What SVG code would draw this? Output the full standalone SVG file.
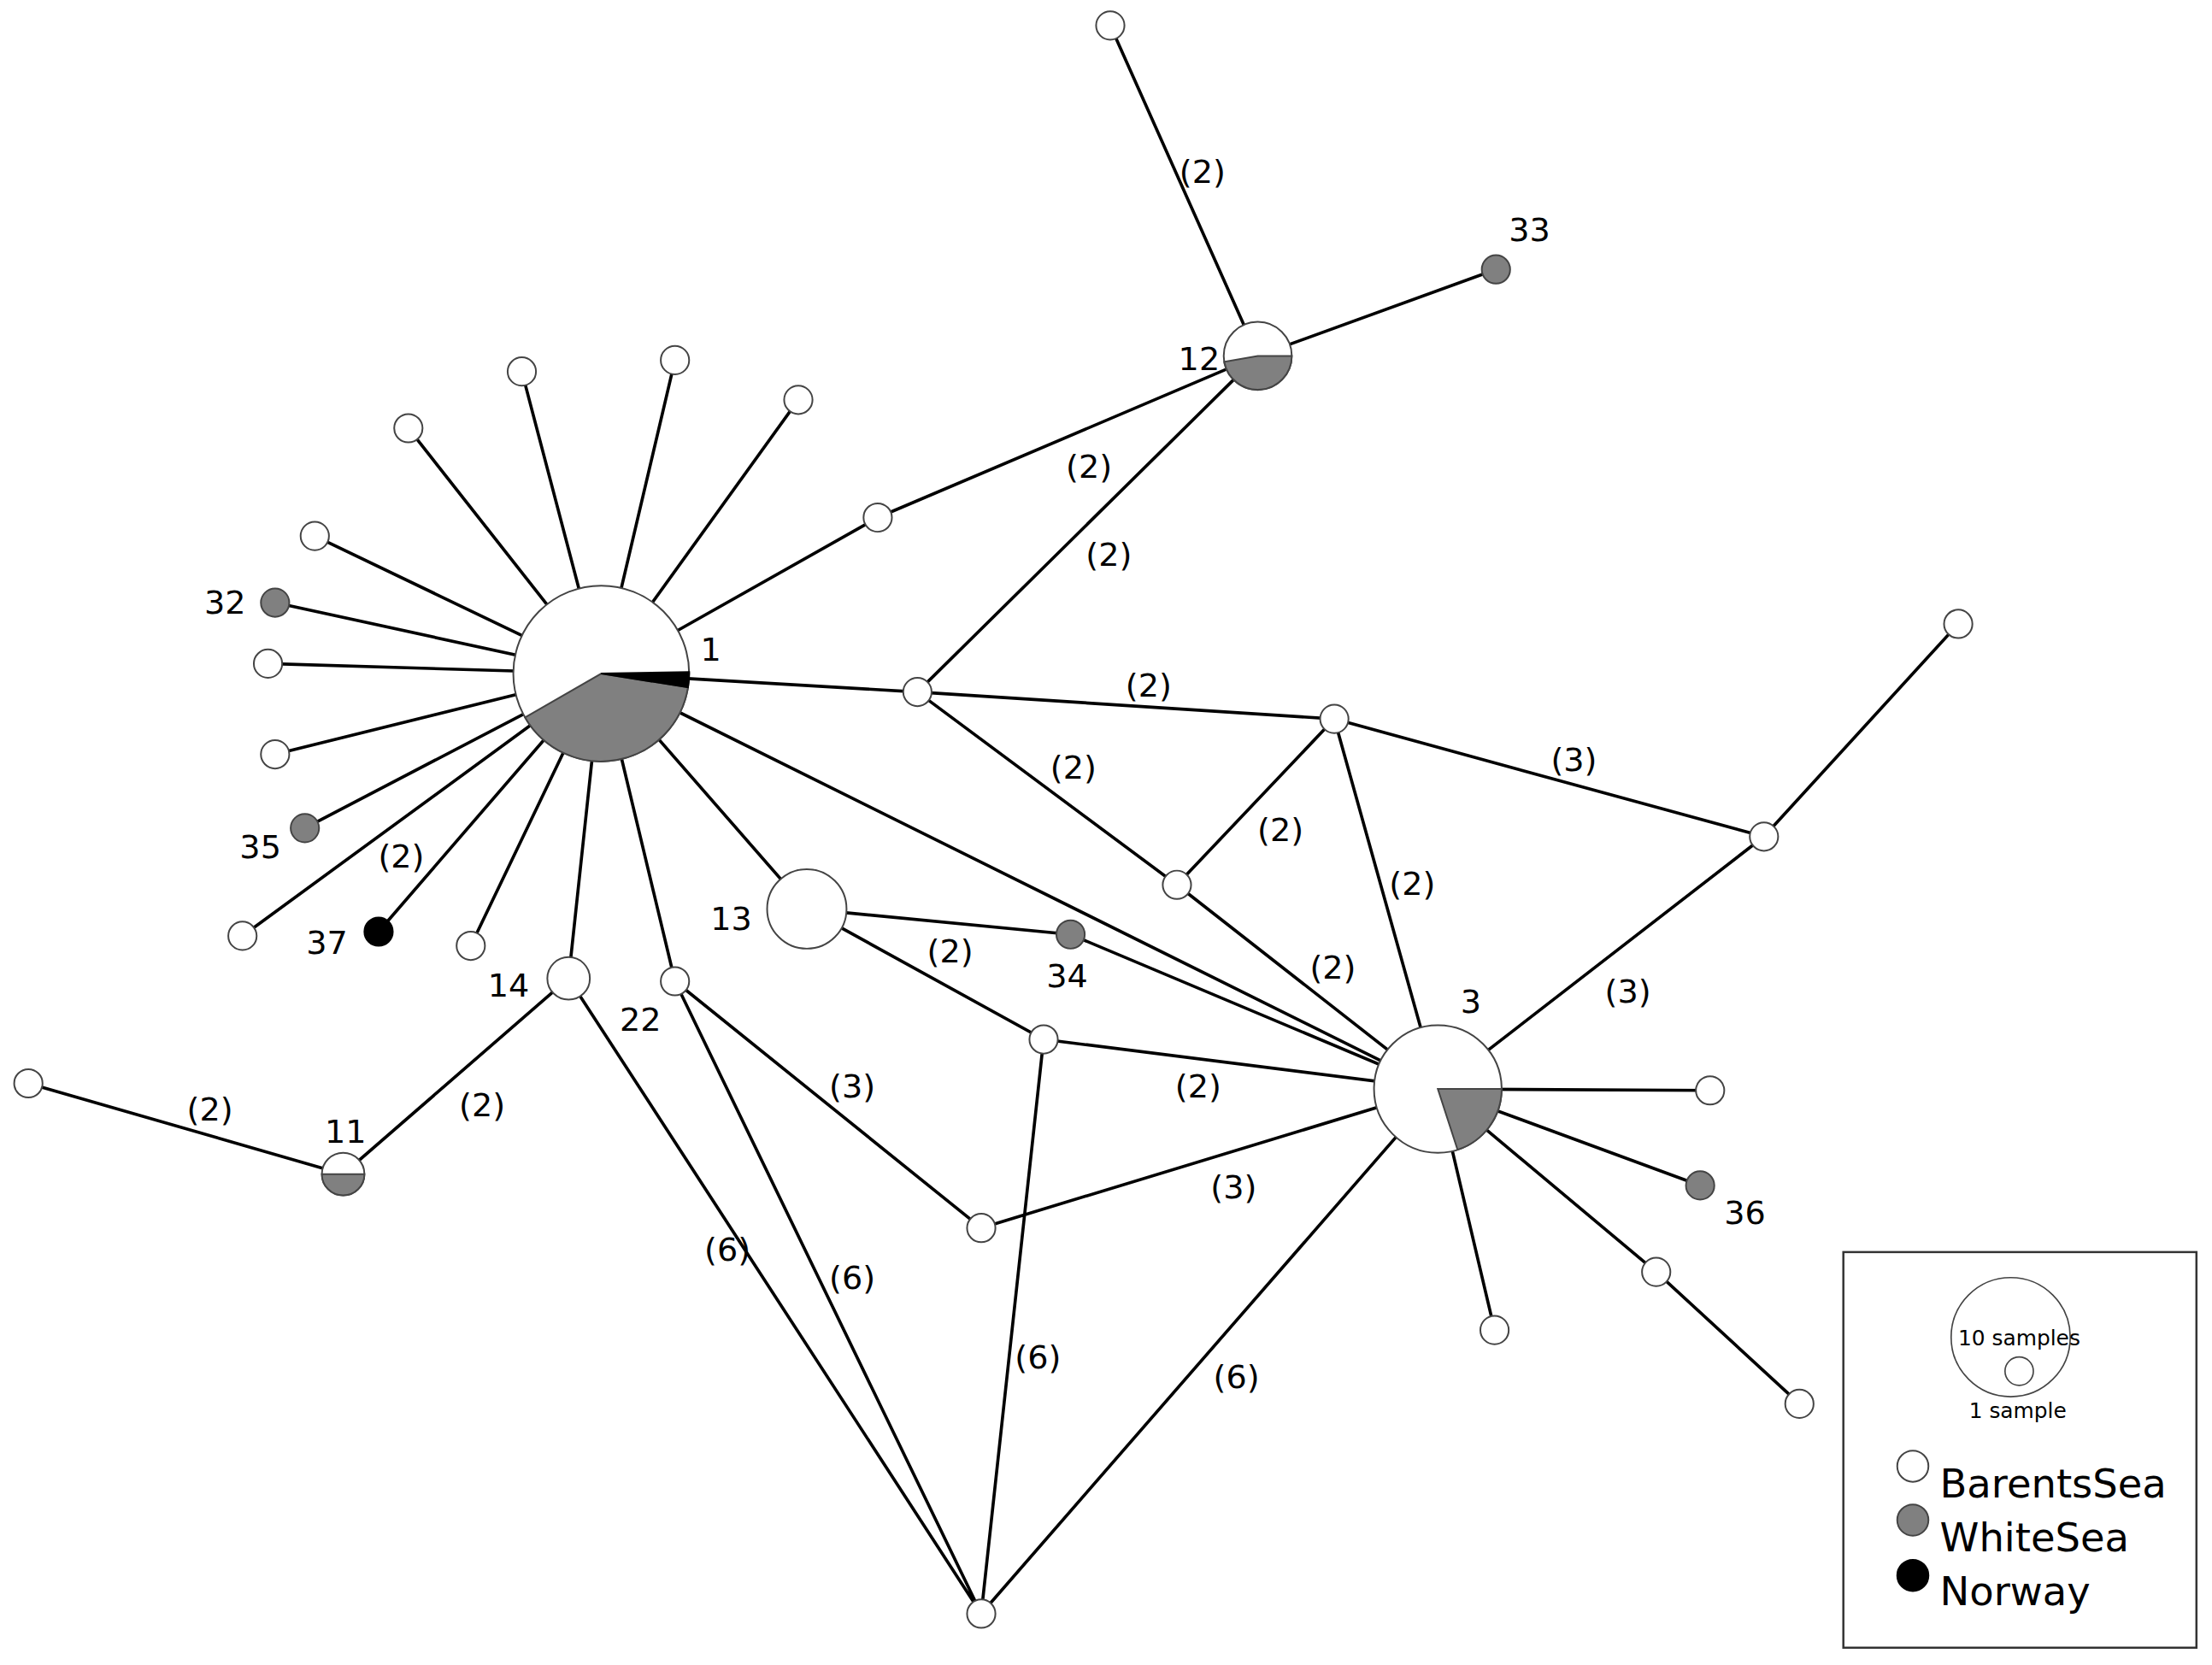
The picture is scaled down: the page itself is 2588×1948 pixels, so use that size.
<svg xmlns="http://www.w3.org/2000/svg" width="2588" height="1948" viewBox="0 0 2588 1948">
<style>
.e{stroke:#000;stroke-width:2.2;fill:none}
.w{fill:#fff;stroke:#444;stroke-width:1.2}
.g{fill:#808080;stroke:#444;stroke-width:1.2}
.b{fill:#000;stroke:#000;stroke-width:1.2}
text{font-family:"DejaVu Sans",Verdana,sans-serif;font-size:23px;fill:#000}
.l{text-anchor:middle}
</style>
<rect width="2588" height="1948" fill="#fff"/>
<g transform="scale(1.659)">
<g id="connectors">
<path class="e" d="M424,475L368,262M424,475L476,254M424,475L563,282M424,475L288,302M424,475L222,378M424,475L194,425M424,475L189,468M424,475L194,532M424,475L215,584M424,475L171,660M424,475L267,657M424,475L332,667M424,475L401,690M424,475L476,692M424,475L569,641M424,475L619,365M424,475L647,488M424,475L1014,768"/>
<path class="e" d="M619,365L887,251M647,488L887,251M887,251L783,18M887,251L1055,190M647,488L941,507M647,488L830,624M830,624L941,507M941,507L1244,590M941,507L1014,768M830,624L1014,768M1244,590L1381,440M1244,590L1014,768M1014,768L1206,769M1014,768L1199,836M1014,768L1168,897L1269,990M1014,768L1054,938M1014,768L692,1138M569,641L755,659L1014,768M569,641L736,733L1014,768M736,733L692,1138M692,866L1014,768M476,692L692,866M476,692L692,1138M401,690L692,1138M401,690L242,828L20,764"/>
<g class="l">
<text x="768" y="337">(2)</text><text x="782" y="399">(2)</text><text x="848" y="129">(2)</text>
<text x="810" y="491">(2)</text><text x="757" y="549">(2)</text><text x="903" y="593">(2)</text>
<text x="1110" y="544">(3)</text><text x="996" y="631">(2)</text><text x="940" y="690">(2)</text>
<text x="1148" y="707">(3)</text><text x="872" y="979">(6)</text><text x="670" y="679">(2)</text>
<text x="845" y="774">(2)</text><text x="732" y="965">(6)</text><text x="870" y="845">(3)</text>
<text x="601" y="774">(3)</text><text x="601" y="909">(6)</text><text x="513" y="889">(6)</text>
<text x="340" y="787">(2)</text><text x="148" y="790">(2)</text><text x="283" y="612">(2)</text>
</g>
</g>
<g id="n1"><circle class="w" cx="424" cy="475" r="62"/>
<path class="g" d="M424,475L485.2,484.7A62,62 0 0 1 370.3,506Z"/>
<path class="b" d="M424,475L486,473.9A62,62 0 0 1 485.2,484.7Z"/>
<text x="494" y="466">1</text></g>
<g id="n12"><circle class="w" cx="887" cy="251" r="24"/>
<path class="g" d="M887,251L911,251A24,24 0 0 1 863.4,255.2Z"/><text x="831" y="261">12</text></g>
<g id="n3"><circle class="w" cx="1014" cy="768" r="45"/>
<path class="g" d="M1014,768L1059,768A45,45 0 0 1 1027.9,810.8Z"/><text x="1030" y="714">3</text></g>
<g id="n13"><circle class="w" cx="569" cy="641" r="28"/><text x="501" y="656">13</text></g>
<g id="n14"><circle class="w" cx="401" cy="690" r="15"/><text x="344" y="703">14</text></g>
<g id="n11"><circle class="w" cx="242" cy="828" r="15"/><path class="g" d="M227,828A15,15 0 0 0 257,828Z"/><text x="229" y="806">11</text></g>
<g id="n33"><circle class="g" cx="1055" cy="190" r="10"/><text x="1064" y="170">33</text></g>
<g id="n32"><circle class="g" cx="194" cy="425" r="10"/><text x="144" y="433">32</text></g>
<g id="n35"><circle class="g" cx="215" cy="584" r="10"/><text x="169" y="605">35</text></g>
<g id="n37"><circle class="b" cx="267" cy="657" r="10"/><text x="216" y="673">37</text></g>
<g id="n34"><circle class="g" cx="755" cy="659" r="10"/><text x="738" y="696">34</text></g>
<g id="n36"><circle class="g" cx="1199" cy="836" r="10"/><text x="1216" y="863">36</text></g>
<g id="n22"><circle class="w" cx="476" cy="692" r="10"/><text x="437" y="727">22</text></g>
<g id="small">
<circle class="w" cx="783" cy="18" r="10"/><circle class="w" cx="368" cy="262" r="10"/><circle class="w" cx="476" cy="254" r="10"/><circle class="w" cx="563" cy="282" r="10"/><circle class="w" cx="288" cy="302" r="10"/><circle class="w" cx="222" cy="378" r="10"/><circle class="w" cx="189" cy="468" r="10"/><circle class="w" cx="194" cy="532" r="10"/><circle class="w" cx="171" cy="660" r="10"/><circle class="w" cx="332" cy="667" r="10"/><circle class="w" cx="619" cy="365" r="10"/><circle class="w" cx="647" cy="488" r="10"/><circle class="w" cx="941" cy="507" r="10"/><circle class="w" cx="1381" cy="440" r="10"/><circle class="w" cx="1244" cy="590" r="10"/><circle class="w" cx="830" cy="624" r="10"/><circle class="w" cx="736" cy="733" r="10"/><circle class="w" cx="692" cy="866" r="10"/><circle class="w" cx="20" cy="764" r="10"/><circle class="w" cx="1206" cy="769" r="10"/><circle class="w" cx="1168" cy="897" r="10"/><circle class="w" cx="1054" cy="938" r="10"/><circle class="w" cx="1269" cy="990" r="10"/><circle class="w" cx="692" cy="1138" r="10"/>
</g>
<g id="legend">
<rect x="1300" y="883" width="249" height="279" fill="#fff" stroke="#333" stroke-width="1.5"/>
<circle cx="1418" cy="943" r="42" fill="none" stroke="#444"/><circle cx="1424" cy="967" r="10" fill="none" stroke="#444"/>
<text x="1424" y="949" class="l" style="font-size:15px">10 samples</text>
<text x="1423" y="1000" class="l" style="font-size:15px">1 sample</text>
<circle class="w" cx="1349" cy="1034" r="11"/><circle class="g" cx="1349" cy="1072" r="11"/><circle class="b" cx="1349" cy="1111" r="11"/>
<text x="1368" y="1056" style="font-size:28px">BarentsSea</text>
<text x="1368" y="1094" style="font-size:28px">WhiteSea</text>
<text x="1368" y="1132" style="font-size:28px">Norway</text>
</g>
</g>
</svg>
